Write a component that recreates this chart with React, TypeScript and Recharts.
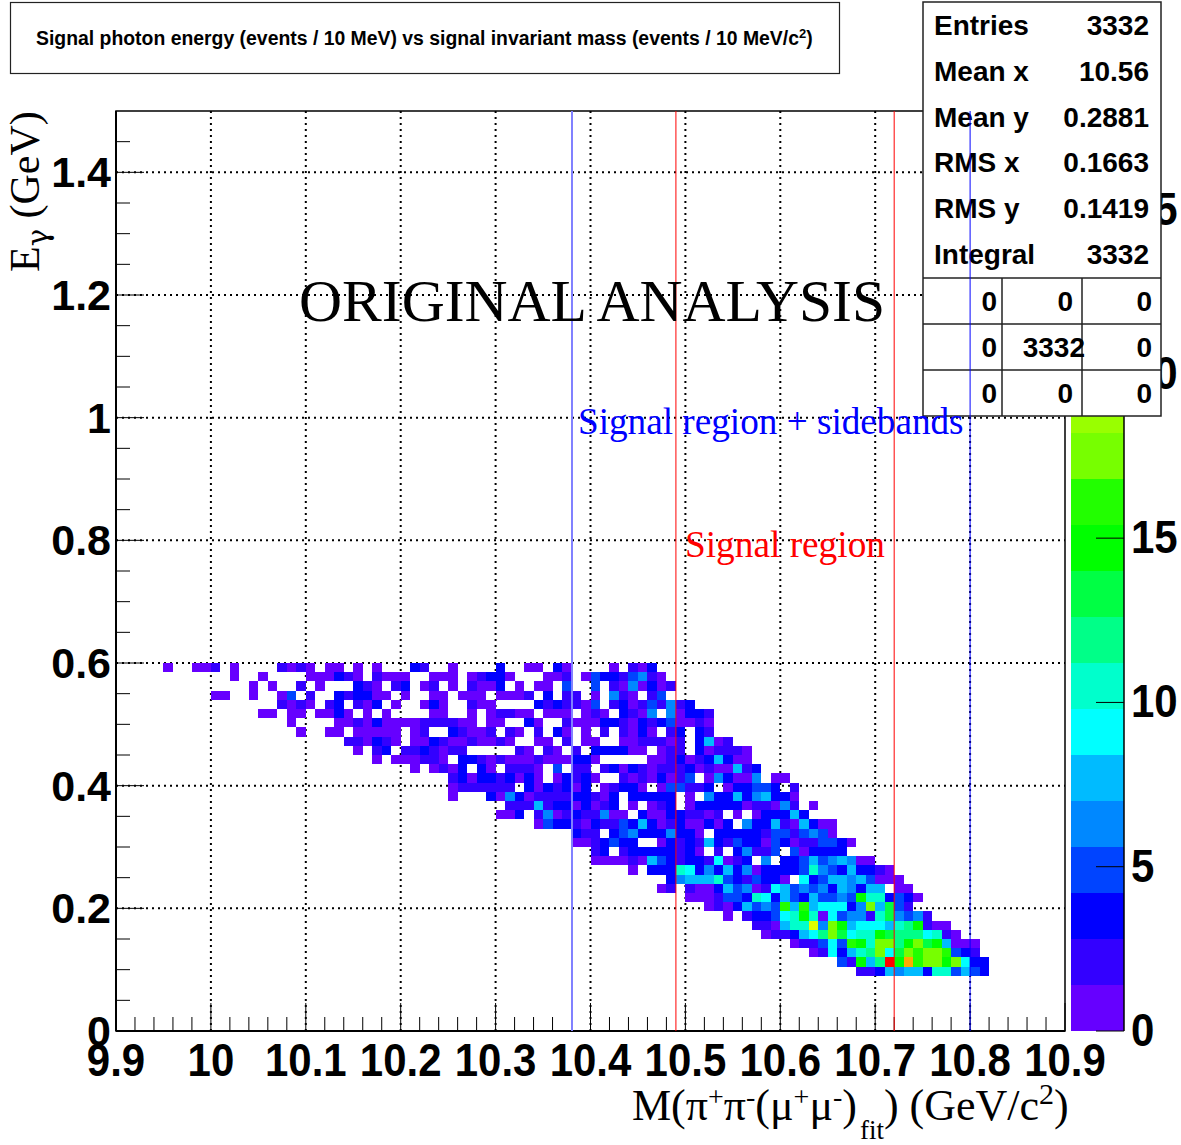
import { BarChart, Bar, ScatterChart, Scatter, CartesianGrid, XAxis, YAxis, ReferenceLine, ReferenceArea } from "recharts";

const FONT_SANS = '"Liberation Sans", Arial, sans-serif';
const FONT_SERIF = '"Liberation Serif", "Times New Roman", serif';

const W = 1181;
const H = 1145;
const MARGIN = { top: 111, right: 116, bottom: 114, left: 116 };
const PLOT_W = W - MARGIN.left - MARGIN.right;
const PLOT_H = H - MARGIN.top - MARGIN.bottom;

// 100 x 100 bins over the axis ranges
const X_MIN = 9.9;
const X_MAX = 10.9;
const Y_MAX = 1.5;
const BIN_X = 0.01;
const BIN_Y = 0.015;

const xMajor = [9.9, 10, 10.1, 10.2, 10.3, 10.4, 10.5, 10.6, 10.7, 10.8, 10.9];
const xTicks = [
  9.9, 9.92, 9.94, 9.96, 9.98, 10, 10.02, 10.04, 10.06, 10.08, 10.1, 10.12, 10.14, 10.16, 10.18, 10.2, 10.22,
  10.24, 10.26, 10.28, 10.3, 10.32, 10.34, 10.36, 10.38, 10.4, 10.42, 10.44, 10.46, 10.48, 10.5, 10.52, 10.54,
  10.56, 10.58, 10.6, 10.62, 10.64, 10.66, 10.68, 10.7, 10.72, 10.74, 10.76, 10.78, 10.8, 10.82, 10.84, 10.86,
  10.88, 10.9,
];
const yMajor = [0, 0.2, 0.4, 0.6, 0.8, 1, 1.2, 1.4];
const yTicks = [
  0, 0.05, 0.1, 0.15, 0.2, 0.25, 0.3, 0.35, 0.4, 0.45, 0.5, 0.55, 0.6, 0.65, 0.7, 0.75, 0.8, 0.85, 0.9, 0.95, 1,
  1.05, 1.1, 1.15, 1.2, 1.25, 1.3, 1.35, 1.4, 1.45,
];
const zTicks = [0, 5, 10, 15, 20, 25];
const Z_MAX = 28;

const regionLines = [
  { x: 10.3805, color: "#8080ff", width: 2 },
  { x: 10.49, color: "#ff0000", width: 1 },
  { x: 10.72, color: "#ff0000", width: 1 },
  { x: 10.8, color: "#0000ff", width: 1 },
];

const paletteBands = [
  "#6600ff", "#3300ff", "#0000ff", "#0044ff", "#0088ff", "#00bbff", "#00ffff", "#00ffcc", "#00ff88", "#00ff44",
  "#00ff00", "#22ff00", "#77ff00", "#99ff00", "#ddff00", "#ffff00", "#ffcc00", "#ffaa00", "#ff5500", "#ff0000",
];

// filled bins, "column:count", row index counted from y = 0
const firstRow = 6;
const histRows = [
  "78:2 79:2 80:3 81:7 82:6 83:7 84:7 85:3 86:10 87:10 88:5 89:7 90:5 91:3",
  "76:5 77:2 78:14 79:7 80:12 81:28 82:14 83:24 84:16 85:18 86:18 87:14 88:18 89:9 90:3 91:3",
  "73:1 74:2 75:9 76:3 77:7 78:10 79:12 80:17 81:9 82:13 83:17 84:16 85:18 86:18 87:16 88:5 89:3 90:2",
  "71:1 72:2 73:2 74:5 75:9 76:5 77:16 78:14 79:10 80:17 81:17 82:12 83:14 84:17 85:13 86:14 87:7 88:1 89:1 90:1",
  "68:1 69:2 70:2 71:3 72:7 73:9 74:12 75:17 76:13 77:9 78:10 79:10 80:14 81:13 82:12 83:12 84:12 85:9 86:10 87:2 88:1",
  "67:2 68:2 69:1 70:7 71:10 72:10 73:20 74:6 75:17 76:14 77:7 78:9 79:9 80:9 81:7 82:10 83:12 84:14 85:2 86:1 87:1",
  "64:1 66:2 67:3 68:3 69:5 70:9 71:10 72:14 73:10 74:1 75:9 76:5 77:6 78:6 79:2 80:10 81:13 82:6 83:5 84:6 85:2",
  "62:1 63:2 64:1 65:3 66:7 67:5 68:6 69:5 70:16 71:7 72:16 73:7 74:9 75:9 76:9 77:3 78:6 79:17 80:7 81:13 82:5 83:2",
  "60:1 61:1 62:1 63:2 64:5 65:5 66:3 67:10 68:9 69:3 70:7 71:5 72:3 73:7 74:5 75:5 76:6 77:5 78:14 79:10 80:10 81:3 82:5 83:3 84:1",
  "57:1 58:2 60:2 61:1 62:1 63:3 64:7 65:5 66:6 67:1 68:2 69:9 70:7 71:5 72:6 73:5 74:6 75:3 76:7 77:6 78:3 79:7 80:7 82:1 83:1",
  "58:3 59:6 60:7 61:7 62:7 63:10 64:5 65:3 66:2 67:5 68:3 69:3 70:1 72:9 73:3 74:5 75:7 76:7 77:6 78:7 79:5 80:1 81:1 82:1",
  "54:1 56:3 57:3 58:3 59:10 60:9 61:3 62:6 63:3 64:7 65:3 66:6 67:1 68:3 69:3 70:3 71:3 72:5 73:10 74:6 75:5 76:3 77:7 78:3 79:3 80:2 81:1",
  "50:1 51:1 52:1 53:1 54:2 55:1 56:7 57:5 58:3 59:2 60:3 61:3 62:2 63:9 64:1 65:2 66:3 68:6 70:3 71:3 72:5 73:7 74:5 75:6 76:7 77:6 78:1 79:1",
  "50:2 51:3 53:2 54:3 55:3 56:3 57:3 58:3 59:2 60:3 61:1 63:2 65:3 66:6 67:2 68:2 69:5 71:5 72:1 73:3 74:3 75:3 76:3",
  "48:1 49:1 50:2 51:3 52:5 53:3 54:3 57:1 58:3 59:2 60:3 61:2 62:7 63:3 64:2 65:5 66:3 67:3 68:1 69:5 70:3 71:1 72:2 73:2 74:5 75:5 76:3 77:1",
  "48:3 49:2 50:2 52:3 53:5 54:6 55:3 56:3 57:3 58:6 59:3 60:3 61:1 63:3 64:3 65:3 66:3 67:3 68:2 69:5 70:5 71:2 72:5 73:6 74:5 75:1",
  "44:1 45:5 46:3 47:3 48:2 49:1 50:3 51:2 52:2 53:5 54:3 55:7 56:3 57:1 58:2 59:3 60:1 61:1 62:3 63:1 64:3 66:6 67:3 68:3 69:7 70:2 71:1 72:7 73:3 74:1 75:1",
  "40:1 41:1 42:3 44:2 45:6 46:1 47:2 48:3 49:2 50:2 51:6 52:1 53:1 55:3 56:1 57:1 58:3 59:3 60:2 61:2 62:1 63:2 65:1 67:1 68:3 69:3 70:3 71:7 72:3",
  "41:2 42:2 43:2 44:7 45:2 46:3 47:3 48:1 49:3 50:1 51:2 52:3 54:1 56:1 57:2 58:3 60:1 61:3 62:3 63:3 64:3 65:3 66:1 67:2 68:2 69:1 70:6 71:2 73:1",
  "35:1 39:3 40:1 41:6 42:3 43:1 44:2 45:2 46:2 47:2 48:3 49:3 50:2 51:1 52:3 54:3 55:3 56:3 57:3 58:3 60:1 62:6 63:3 64:3 65:7 66:3 67:6 68:7 69:3 70:3 71:1",
  "35:1 36:2 37:2 38:2 39:2 40:2 41:2 43:3 44:1 45:3 46:2 47:3 48:1 49:3 51:1 52:2 53:3 54:3 55:1 57:1 58:5 59:5 60:2 61:2 62:3 64:1 65:3 66:3 67:5 68:5 69:3 71:2",
  "35:2 36:3 37:1 38:3 39:3 40:2 41:3 42:1 43:3 44:1 46:1 47:3 48:2 49:3 50:1 53:2 54:1 55:2 56:1 57:3 58:1 59:2 60:5 62:1 63:6 64:3 65:1 66:1 67:6 69:1 70:1",
  "31:1 33:1 34:2 35:1 36:3 38:3 39:1 41:2 42:2 43:2 44:1 46:5 48:2 49:2 51:2 52:3 53:1 54:3 55:2 56:1 57:2 58:2 59:2 60:3 61:1 62:2 63:1 64:1 65:7 66:2 67:3",
  "27:1 29:1 30:1 31:1 32:2 33:2 34:1 36:3 37:3 38:2 39:1 40:2 41:1 42:1 43:1 44:2 45:1 46:1 47:1 48:3 49:3 50:1 56:1 57:1 58:2 59:3 60:1 61:2 62:3 63:7 64:3 65:1 66:1",
  "25:1 27:2 28:3 30:2 31:2 32:3 33:2 34:1 35:2 36:2 42:2 43:1 45:2 46:1 48:2 50:3 51:3 52:3 53:3 54:1 55:1 57:1 58:2 59:2 61:3 62:1 63:2 64:2 65:2 66:1",
  "24:2 25:2 26:1 27:3 28:2 29:1 31:1 32:1 33:3 34:2 35:1 36:1 37:2 38:1 39:1 40:2 41:1 44:1 45:1 47:2 49:1 50:1 53:1 54:1 55:2 56:2 57:2 58:1 59:2 61:3 62:7 63:1 64:2",
  "19:1 22:1 23:1 25:1 26:1 27:1 28:1 29:1 31:1 32:2 35:3 36:2 37:1 38:1 39:2 41:2 42:1 44:2 46:3 47:1 49:1 51:2 53:2 54:1 55:3 56:1 58:2 59:3 61:3 62:2",
  "18:1 23:1 24:1 25:2 26:1 27:3 28:1 29:1 30:1 31:1 32:2 33:2 34:2 35:2 36:1 37:1 39:1 40:1 43:3 44:1 47:2 48:1 49:1 50:1 51:3 52:3 53:2 54:1 55:3 56:2 57:3 58:5 59:1 60:1 61:2 62:1",
  "15:1 16:1 18:1 19:1 21:1 22:1 23:3 24:1 26:1 28:1 33:1 34:1 37:1 39:1 40:2 41:2 42:1 43:1 45:1 46:1 47:1 49:1 50:2 51:1 53:3 54:2 55:1 56:6 58:6 59:1 60:3 61:3 62:2",
  "17:2 18:1 19:2 20:1 22:2 23:3 25:2 26:1 27:3 29:1 32:1 33:3 34:1 37:2 38:1 39:1 44:3 45:2 46:3 47:2 48:2 49:1 50:5 52:2 53:3 54:1 55:2 56:5 57:2 58:6 59:2 60:3",
  "10:1 11:1 14:1 17:1 18:5 20:2 23:3 24:2 25:3 26:3 27:1 28:1 30:1 33:1 34:1 36:1 37:1 38:1 40:1 41:1 42:1 43:2 45:3 47:2 48:2 50:1 52:6 53:2 54:1 56:2 57:5",
  "14:1 16:1 19:2 21:1 25:3 26:2 27:1 29:2 30:3 32:1 33:2 35:1 37:2 38:1 39:1 40:3 42:1 44:1 45:1 47:5 50:5 52:2 53:1 54:6 55:1 56:3 57:1 58:2",
  "12:1 15:1 20:1 21:1 22:1 23:3 24:2 25:1 27:2 28:1 29:1 30:1 33:1 34:1 35:1 37:1 38:2 39:3 40:3 41:1 45:1 46:1 47:2 49:1 50:5 51:3 52:3 53:2 54:5 55:6 56:2 57:1",
  "5:1 8:1 9:1 10:2 12:1 17:2 18:1 19:2 20:1 22:1 23:1 25:1 27:1 31:3 32:2 35:1 40:3 43:1 44:1 46:3 47:1 52:1 54:2 55:1 56:3",
];

const statsRows = [
  ["Entries", "3332"],
  ["Mean x", "10.56"],
  ["Mean y", "0.2881"],
  ["RMS x", "0.1663"],
  ["RMS y", "0.1419"],
  ["Integral", "3332"],
];
const statsGrid = [
  ["0", "0", "0"],
  ["0", "3332", "0"],
  ["0", "0", "0"],
];

const bandColor = (z: number) => paletteBands[Math.min(paletteBands.length - 1, Math.floor((z / Z_MAX) * paletteBands.length))];

const cells = histRows.flatMap((row, r) =>
  row.split(" ").map((tok) => {
    const [col, count] = tok.split(":").map(Number);
    return {
      x: X_MIN + (col + 0.5) * BIN_X,
      y: (firstRow + r + 0.5) * BIN_Y,
      z: count,
    };
  })
);

const paletteRow: Record<string, number | string> = { name: "z" };
paletteBands.forEach((_, i) => {
  paletteRow["b" + i] = Z_MAX / paletteBands.length;
});

const cellW = (PLOT_W * BIN_X) / (X_MAX - X_MIN);
const cellH = (PLOT_H * BIN_Y) / Y_MAX;

function Cell(props: any) {
  const { cx, cy, payload } = props;
  return (
    <rect
      x={cx - cellW / 2}
      y={cy - cellH / 2}
      width={cellW}
      height={cellH}
      fill={bandColor(payload.z)}
      shapeRendering="crispEdges"
    />
  );
}

function XTick({ x, y, payload }: any) {
  const major = xMajor.includes(payload.value);
  return (
    <g>
      <line x1={x} x2={x} y1={y} y2={y - (major ? 28 : 14)} stroke="#000" strokeWidth={1} />
      {major && (
        <text
          transform={`translate(${x},${y + 45}) scale(1,1.12)`}
          textAnchor="middle"
          fontFamily={FONT_SANS}
          fontWeight="bold"
          fontSize={42}
          fill="#000"
        >
          {payload.value}
        </text>
      )}
    </g>
  );
}

function YTick({ x, y, payload }: any) {
  const major = yMajor.includes(payload.value);
  return (
    <g>
      <line x1={x} x2={x + (major ? 28 : 14)} y1={y} y2={y} stroke="#000" strokeWidth={1} />
      {major && (
        <text
          transform={`translate(${x - 5},${y + 15})`}
          textAnchor="end"
          fontFamily={FONT_SANS}
          fontWeight="bold"
          fontSize={43}
          fill="#000"
        >
          {payload.value}
        </text>
      )}
    </g>
  );
}

function ZTick({ x, y, payload }: any) {
  return (
    <g>
      <line x1={x} x2={x - 28} y1={y} y2={y} stroke="#000" strokeWidth={1} />
      <text
        transform={`translate(${x + 7},${y + 15}) scale(1,1.1)`}
        textAnchor="start"
        fontFamily={FONT_SANS}
        fontWeight="bold"
        fontSize={42}
        fill="#000"
      >
        {payload.value}
      </text>
    </g>
  );
}

const layer = { position: "absolute", left: 0, top: 0, pointerEvents: "none" } as const;

export default function App() {
  return (
    <div style={{ position: "absolute", left: 0, top: 0, width: W, height: H, background: "#fff", overflow: "hidden" }}>
      {/* histogram, the axes take 1px each so the margins are 1 short */}
      <div style={layer}>
        <ScatterChart
          width={W}
          height={H}
          margin={{ top: MARGIN.top, right: MARGIN.right, bottom: MARGIN.bottom - 1, left: MARGIN.left - 1 }}
        >
          <XAxis
            type="number"
            dataKey="x"
            domain={[X_MIN, X_MAX]}
            ticks={xTicks}
            interval={0}
            height={1}
            tickSize={0}
            tickMargin={0}
            tick={XTick}
            axisLine={{ stroke: "#000", strokeWidth: 2 }}
          />
          <YAxis
            type="number"
            dataKey="y"
            domain={[0, Y_MAX]}
            ticks={yTicks}
            interval={0}
            width={1}
            tickSize={0}
            tickMargin={0}
            tick={YTick}
            axisLine={{ stroke: "#000", strokeWidth: 2 }}
          />
          <Scatter data={cells} shape={Cell} isAnimationActive={false} />
          <CartesianGrid
            stroke="#000"
            strokeWidth={2}
            strokeDasharray="2 4"
            verticalValues={xMajor.slice(1, -1)}
            horizontalValues={yMajor.slice(1)}
          />
          <ReferenceArea x1={X_MIN} x2={X_MAX} y1={0} y2={Y_MAX} fill="none" stroke="#000" strokeWidth={1.5} />
        </ScatterChart>
      </div>

      {/* colour scale, taller than the bar so the 0 label is not clipped */}
      <div style={{ ...layer, left: 1071, top: 111 }}>
        <BarChart
          width={110}
          height={960}
          data={[paletteRow]}
          margin={{ top: 0, right: 56, bottom: 40, left: 0 }}
          barCategoryGap={0}
        >
          <XAxis dataKey="name" hide />
          <YAxis
            orientation="right"
            type="number"
            domain={[0, Z_MAX]}
            ticks={zTicks}
            interval={0}
            width={1}
            tickSize={0}
            tickMargin={0}
            tick={ZTick}
            axisLine={{ stroke: "#000", strokeWidth: 1.5 }}
          />
          {paletteBands.map((c, i) => (
            <Bar key={c} dataKey={"b" + i} stackId="z" fill={c} isAnimationActive={false} />
          ))}
        </BarChart>
      </div>

      {/* title box, axis titles, stats box */}
      <svg width={W} height={H} style={layer}>
        <rect x={10.5} y={2.5} width={829} height={71} fill="#fff" stroke="#222" strokeWidth={1.2} />
        <text x={36} y={45} fontFamily={FONT_SANS} fontWeight="bold" fontSize={19.4} fill="#000">
          Signal photon energy (events / 10 MeV) vs signal invariant mass (events / 10 MeV/c
          <tspan dy={-7} fontSize={13}>2</tspan>
          <tspan dy={7}>)</tspan>
        </text>

        <text transform="translate(39,272) rotate(-90)" fontFamily={FONT_SERIF} fontSize={42} fill="#000">
          E
          <tspan dy={9} fontSize={29} fontFamily='"DejaVu Serif", serif'>γ</tspan>
          <tspan dy={-9}> (GeV)</tspan>
        </text>

        <text x={632} y={1120} fontFamily={FONT_SERIF} fontSize={44} fill="#000">
          M(π
          <tspan dy={-14} fontSize={28}>+</tspan>
          <tspan dy={14}>π</tspan>
          <tspan dy={-14} fontSize={28}>-</tspan>
          <tspan dy={14}>(μ</tspan>
          <tspan dy={-14} fontSize={28}>+</tspan>
          <tspan dy={14}>μ</tspan>
          <tspan dy={-14} fontSize={28}>-</tspan>
          <tspan dy={14}>)</tspan>
          <tspan dx={3} dy={19} fontSize={27}>fit</tspan>
          <tspan dy={-19}>) (GeV/c</tspan>
          <tspan dy={-16} fontSize={30}>2</tspan>
          <tspan dy={16}>)</tspan>
        </text>

        <rect x={923} y={2} width={238} height={414} fill="#fff" stroke="#222" strokeWidth={1.5} />
        {statsRows.map(([k, v], i) => (
          <g key={k} fontFamily={FONT_SANS} fontWeight="bold" fontSize={28} fill="#000">
            <text x={934} y={35 + i * 45.8}>{k}</text>
            <text x={1149} y={35 + i * 45.8} textAnchor="end">{v}</text>
          </g>
        ))}
        <line x1={923} x2={1161} y1={278} y2={278} stroke="#222" strokeWidth={1.5} />
        <line x1={923} x2={1161} y1={324} y2={324} stroke="#222" strokeWidth={1.5} />
        <line x1={923} x2={1161} y1={370} y2={370} stroke="#222" strokeWidth={1.5} />
        <line x1={1002} x2={1002} y1={278} y2={416} stroke="#222" strokeWidth={1.5} />
        <line x1={1082} x2={1082} y1={278} y2={416} stroke="#222" strokeWidth={1.5} />
        {statsGrid.map((row, r) =>
          row.map((v, c) => (
            <text
              key={r + "-" + c}
              x={[997, c === 1 && v.length > 1 ? 1085 : 1073, 1152][c]}
              y={311 + r * 46}
              textAnchor="end"
              fontFamily={FONT_SANS}
              fontWeight="bold"
              fontSize={28}
              fill="#000"
            >
              {v}
            </text>
          ))
        )}
      </svg>

      {/* region lines sit on top of everything */}
      <div style={layer}>
        <ScatterChart width={W} height={H} margin={MARGIN}>
          <XAxis type="number" dataKey="x" domain={[X_MIN, X_MAX]} hide />
          <YAxis type="number" dataKey="y" domain={[0, Y_MAX]} hide />
          <Scatter data={regionLines.map((l) => ({ x: l.x, y: 0 }))} shape={() => <g />} isAnimationActive={false} />
          {regionLines.map((l) => (
            <ReferenceLine key={l.x} x={l.x} stroke={l.color} strokeWidth={l.width} />
          ))}
        </ScatterChart>
      </div>

      <svg width={W} height={H} style={layer}>
        <text x={299} y={321} fontFamily={FONT_SERIF} fontSize={59.6} fill="#000">ORIGINAL ANALYSIS</text>
        <text x={578} y={434} fontFamily={FONT_SERIF} fontSize={37.2} fill="#0000ff">Signal region + sidebands</text>
        <text x={685} y={557} fontFamily={FONT_SERIF} fontSize={37.3} fill="#ff0000">Signal region</text>
      </svg>
    </div>
  );
}
